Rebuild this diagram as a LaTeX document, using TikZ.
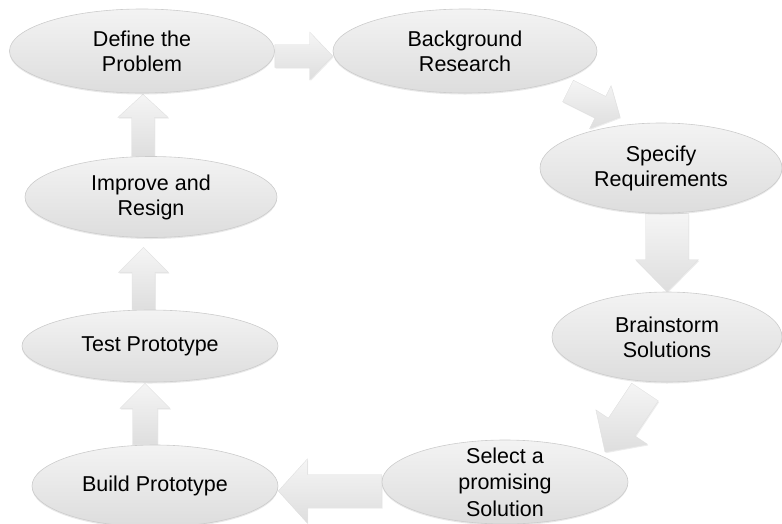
\documentclass[tikz,border=0pt]{standalone}
\usepackage{fontspec}
\setmainfont{Liberation Sans}
\usepackage{tikz}
\usetikzlibrary{calc, shapes.geometric, shadows, backgrounds}
\definecolor{phasetop}{RGB}{243, 243, 243}
\definecolor{phasebottom}{RGB}{221, 221, 221}
\definecolor{phaseline}{RGB}{204, 204, 204}
\definecolor{arrowtop}{RGB}{245, 245, 245}
\definecolor{arrowbottom}{RGB}{222, 222, 222}

\begin{document}
\begin{tikzpicture}[
    x=1pt, y=-1pt,
    phase/.style={ellipse, draw=phaseline, line width=0.6pt, top color=phasetop, bottom color=phasebottom, inner sep=-12pt, align=center, font=\fontsize{21.5}{25}\selectfont, drop shadow={shadow xshift=0pt, shadow yshift=-1.5pt, opacity=0.18}},
    blockarrow/.style n args={3}{draw=phaseline!60, line width=0.4pt, top color=arrowtop, bottom color=arrowbottom, drop shadow={shadow xshift=0.8pt, shadow yshift=-1.2pt, opacity=0.15},
        to path={($(\tikztostart)!#1!90:(\tikztotarget)$) -- ($(\tikztotarget)!#3!(\tikztostart)!#1!90:(\tikztotarget)$) -- ($(\tikztotarget)!#3!(\tikztostart)!#2!90:(\tikztotarget)$) -- (\tikztotarget) -- ($(\tikztotarget)!#3!(\tikztostart)!#2!-90:(\tikztotarget)$) -- ($(\tikztotarget)!#3!(\tikztostart)!#1!-90:(\tikztotarget)$) -- ($(\tikztostart)!#1!-90:(\tikztotarget)$) -- cycle}},
]
    \useasboundingbox (0,0) rectangle (782,523);

    % Phases
    \node[phase, minimum width=265pt, minimum height=84pt] (define) at (142,51) {Define the\\Problem};
    \node[phase, minimum width=264pt, minimum height=84pt] (research) at (465,51) {Background\\Research};
    \node[phase, minimum width=242pt, minimum height=90pt] (specify) at (661,168) {Specify\\Requirements};
    \node[phase, minimum width=230pt, minimum height=90pt] (brainstorm) at (667,337) {Brainstorm\\Solutions};
    \node[phase, minimum width=246pt, minimum height=84pt, font=\fontsize{21.5}{26.5}\selectfont] (select) at (505,482) {Select a\\promising\\Solution};
    \node[phase, minimum width=246pt, minimum height=82pt] (build) at (155,486) {Build Prototype};
    \node[phase, minimum width=256pt, minimum height=72pt] (test) at (150,346) {Test Prototype};
    \node[phase, minimum width=252pt, minimum height=81pt] (improve) at (151,197) {Improve and\\Resign};

    % Arrow ends
    \coordinate (define-out) at ($(define.east)+(0,5)$);
    \coordinate (research-in) at ($(research.west)+(0,5)$);
    \coordinate (research-out) at ($(research.center)+(103,40)$);
    \coordinate (specify-in) at ($(specify.center)+(-41,-51)$);
    \coordinate (specify-out) at (specify.south -| brainstorm.north);
    \coordinate (brainstorm-out) at ($(brainstorm.center)+(-22,55)$);
    \coordinate (select-in) at ($(select.center)+(100,-30)$);
    \coordinate (select-out) at ($(select.west)+(0,9)$);
    \coordinate (build-in) at ($(build.east)+(0,5)$);
    \coordinate (build-out) at ($(build.north)+(-10,0)$);
    \coordinate (test-in) at ($(test.south)+(-5,1)$);
    \coordinate (test-out) at ($(test.north)+(-6.5,0)$);
    \coordinate (improve-in) at ($(improve.south)+(-7.5,9.5)$);
    \coordinate (improve-out) at ($(improve.north)+(-8,0)$);
    \coordinate (define-in) at ($(define.south)+(1,1)$);

    % Arrows
    \begin{scope}[on background layer]
        \draw[blockarrow={11.5pt}{24pt}{23pt}] (define-out) to (research-in);
        \draw[blockarrow={12pt}{24pt}{22pt}] (research-out) to (specify-in);
        \draw[blockarrow={21.5pt}{31.5pt}{32pt}] (specify-out) to (brainstorm.north);
        \draw[blockarrow={16pt}{31pt}{30pt}] (brainstorm-out) to (select-in);
        \draw[blockarrow={16.5pt}{32pt}{29pt}] (select-out) to (build-in);
        \draw[blockarrow={12.5pt}{25pt}{25pt}] (build-out) to (test-in);
        \draw[blockarrow={11.5pt}{25pt}{25pt}] (test-out) to (improve-in);
        \draw[blockarrow={11.5pt}{25pt}{23pt}] (improve-out) to (define-in);
    \end{scope}

\end{tikzpicture}
\end{document}
